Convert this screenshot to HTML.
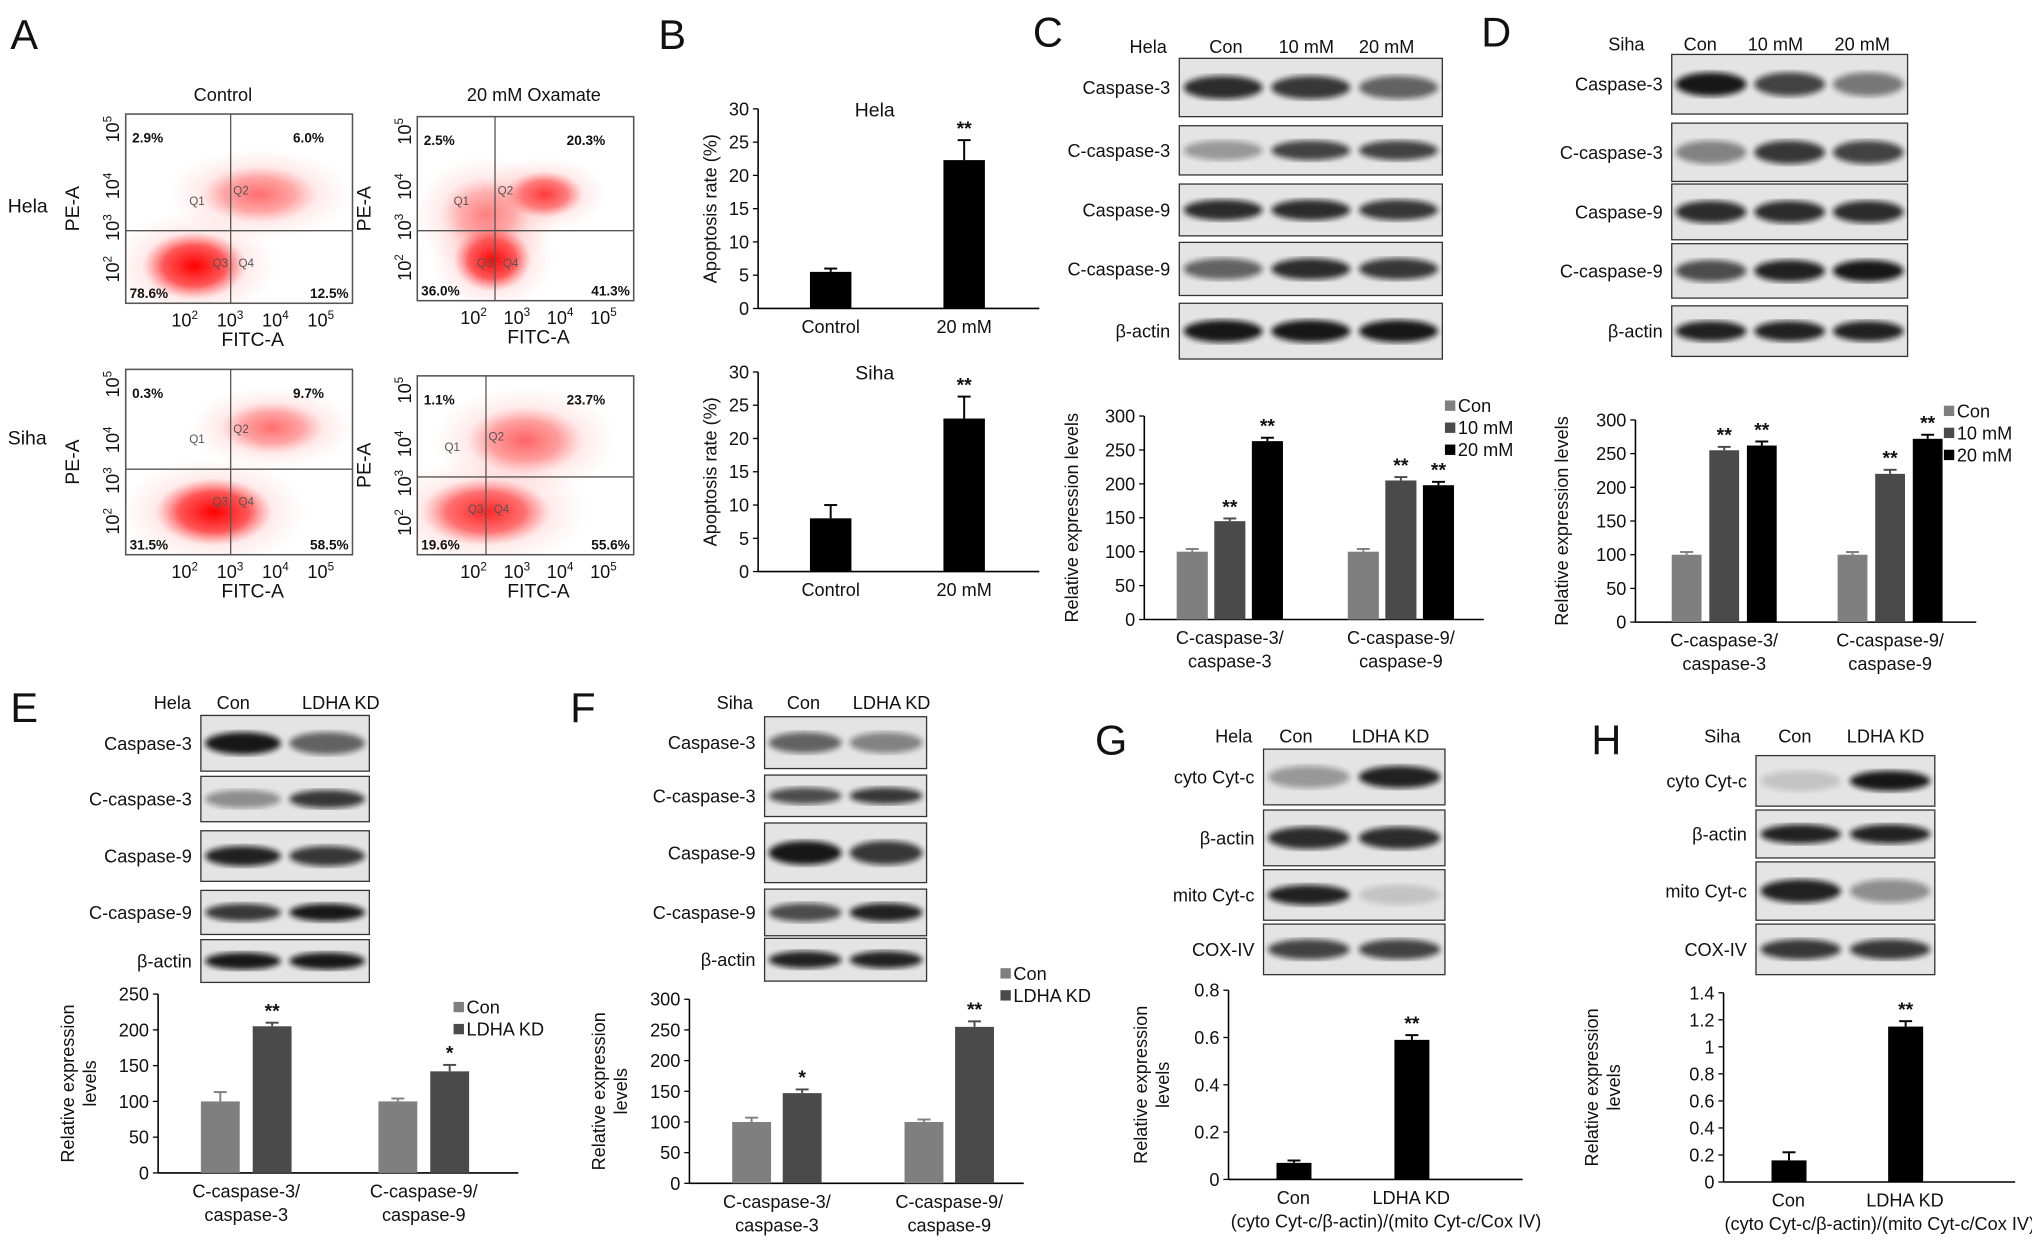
<!DOCTYPE html>
<html><head><meta charset="utf-8"><style>
html,body{margin:0;padding:0;background:#fff;}
svg{display:block;font-family:"Liberation Sans",Arial,sans-serif;}
</style></head><body>
<svg id="fig" width="2032" height="1252" viewBox="0 0 1568 966" preserveAspectRatio="none" xmlns="http://www.w3.org/2000/svg">
<defs>
<filter id="blur2"><feGaussianBlur stdDeviation="2.2"/></filter>
<radialGradient id="redc"><stop offset="0" stop-color="#ff0000" stop-opacity="1"/><stop offset="0.6" stop-color="#ff2020" stop-opacity="0.7"/><stop offset="1" stop-color="#ff6060" stop-opacity="0"/></radialGradient>
<radialGradient id="redl"><stop offset="0" stop-color="#ff3030" stop-opacity="0.35"/><stop offset="1" stop-color="#ff8080" stop-opacity="0"/></radialGradient>
</defs>
<g id="root"></g>
</svg>
<script>
// ---------- chart data ----------
const bCategories = ["Control", "20 mM"];
const bHelaValues = [5.5, 22.3];
const bHelaErrors = [0.5, 3];
const bSihaValues = [8, 23];
const bSihaErrors = [2, 3.3];
const bTicks = [0, 5, 10, 15, 20, 25, 30];

const cdGroups = [["C-caspase-3/", "caspase-3"], ["C-caspase-9/", "caspase-9"]];
const cdSeries = ["Con", "10 mM", "20 mM"];
const cValues = [[100, 145, 263], [100, 205, 198]];
const cErrors = [[4, 4, 5], [4, 5, 5]];
const cStars = [["", "**", "**"], ["", "**", "**"]];
const dValues = [[100, 255, 262], [100, 220, 272]];
const dErrors = [[4, 5, 6], [4, 6, 6]];
const dStars = [["", "**", "**"], ["", "**", "**"]];
const cdTicks = [0, 50, 100, 150, 200, 250, 300];

const efSeries = ["Con", "LDHA KD"];
const eValues = [[100, 205], [100, 142]];
const eErrors = [[13, 5], [4, 9]];
const eStars = [["", "**"], ["", "*"]];
const eTicks = [0, 50, 100, 150, 200, 250];
const fValues = [[100, 147], [100, 255]];
const fErrors = [[7, 6], [4, 9]];
const fStars = [["", "*"], ["", "**"]];
const fTicks = [0, 50, 100, 150, 200, 250, 300];

const ghCategories = ["Con", "LDHA KD"];
const gValues = [0.07, 0.59];
const gErrors = [0.01, 0.02];
const gTicks = [0, 0.2, 0.4, 0.6, 0.8];
const hValues = [0.16, 1.15];
const hErrors = [0.06, 0.04];
const hTicks = [0, 0.2, 0.4, 0.6, 0.8, 1, 1.2, 1.4];

// ---------- helpers ----------
const NS = "http://www.w3.org/2000/svg";
const root = document.getElementById("root");
function el(tag, attrs, parent) {
  const e = document.createElementNS(NS, tag);
  for (const k in attrs) e.setAttribute(k, attrs[k]);
  (parent || root).appendChild(e);
  return e;
}
function txt(s, x, y, size, anchor, parent, extra) {
  const t = el("text", Object.assign({x: x, y: y, "font-size": size, "text-anchor": anchor || "start", fill: "#111"}, extra || {}), parent);
  t.textContent = s;
  return t;
}
function grp(name) {
  const g = el("g", {});
  
  
  return g;
}
function scaleY(y0, y1, vmax) { return v => y0 - (y0 - y1) * v / vmax; }

function axes(g, x0, x1, y0, y1, ticks, vmax, fmt, ylabel, ylx) {
  const sy = scaleY(y0, y1, vmax);
  el("line", {x1: x0, y1: y0, x2: x0, y2: y1, stroke: "#000", "stroke-width": 1.2}, g);
  el("line", {x1: x0, y1: y0, x2: x1, y2: y0, stroke: "#000", "stroke-width": 1.2}, g);
  ticks.forEach(t => {
    const y = sy(t);
    el("line", {x1: x0 - 4, y1: y, x2: x0, y2: y, stroke: "#000", "stroke-width": 1}, g);
    const tl = txt(fmt ? fmt(t) : String(t), x0 - 7, y + 5, 14, "end", g);
    
    
  });
  if (ylabel) {
    const lines = Array.isArray(ylabel) ? ylabel : [ylabel];
    const cy = (y0 + y1) / 2;
    lines.forEach((L, i) => {
      const t = txt(L, 0, 0, 14, "middle", g, {transform: "translate(" + (ylx + i * 17) + "," + cy + ") rotate(-90)"});
      
      
    });
  }
  return sy;
}
function bar(g, x, w, v, err, sy, color, name, star) {
  const y = sy(v), y0 = sy(0);
  const r = el("rect", {x: x, y: y, width: w, height: y0 - y, fill: color}, g);
  
  
  const ye = sy(v + err), cx = x + w / 2;
  el("line", {x1: cx, y1: y, x2: cx, y2: ye, stroke: color, "stroke-width": 1.5}, g);
  el("line", {x1: cx - 5, y1: ye, x2: cx + 5, y2: ye, stroke: color, "stroke-width": 1.5}, g);
  if (star) {
    const s = txt(star, cx, ye - 4, 15, "middle", g, {"font-weight": "bold"});
    
    
  }
}

// ---------- panel letters ----------
[["A", 8, 38], ["B", 508, 38], ["C", 797, 36], ["D", 1143, 36], ["E", 8, 557], ["F", 440, 557], ["G", 845, 582], ["H", 1228, 582]].forEach(p => {
  const t = txt(p[0], p[1], p[2], 32, "start", root);
  
  
});

// ---------- Panel A: flow cytometry ----------
(function () {
  const g = grp("panel-a-flow-cytometry");
  txt("Control", 172, 78, 14, "middle", g);
  txt("20 mM Oxamate", 412, 78, 14, "middle", g);
  txt("Hela", 6, 164, 15, "start", g);
  txt("Siha", 6, 343, 15, "start", g);
  const plots = [
    {x: 97, y: 88, w: 175, h: 146, qx: 178, qy: 178, q: ["2.9%", "6.0%", "78.6%", "12.5%"], cl: [[150, 205, 40, 26, 1], [200, 150, 45, 22, 0.4]]},
    {x: 322, y: 90, w: 167, h: 142, qx: 382, qy: 178, q: ["2.5%", "20.3%", "36.0%", "41.3%"], cl: [[380, 200, 30, 25, 1], [420, 150, 30, 18, 0.7], [375, 165, 35, 28, 0.3]]},
    {x: 97, y: 285, w: 175, h: 143, qx: 178, qy: 362, q: ["0.3%", "9.7%", "31.5%", "58.5%"], cl: [[165, 395, 45, 26, 1], [210, 330, 40, 20, 0.4]]},
    {x: 322, y: 290, w: 167, h: 138, qx: 375, qy: 368, q: ["1.1%", "23.7%", "19.6%", "55.6%"], cl: [[375, 395, 50, 26, 0.8], [405, 340, 45, 26, 0.45]]}
  ];
  plots.forEach((p, i) => {
    const pg = el("g", {}, g);
    
    
    const cid = "clip" + i;
    const cp = el("clipPath", {id: cid}, pg);
    el("rect", {x: p.x, y: p.y, width: p.w, height: p.h}, cp);
    const cg = el("g", {"clip-path": "url(#" + cid + ")"}, pg);
    p.cl.forEach(c => {
      el("ellipse", {cx: c[0], cy: c[1], rx: c[2] * 1.6, ry: c[3] * 1.6, fill: "url(#redl)"}, cg);
      el("ellipse", {cx: c[0], cy: c[1], rx: c[2], ry: c[3], fill: "url(#redc)", opacity: c[4]}, cg);
    });
    el("rect", {x: p.x, y: p.y, width: p.w, height: p.h, fill: "none", stroke: "#555", "stroke-width": 1.2}, pg);
    el("line", {x1: p.qx, y1: p.y, x2: p.qx, y2: p.y + p.h, stroke: "#555", "stroke-width": 1}, pg);
    el("line", {x1: p.x, y1: p.qy, x2: p.x + p.w, y2: p.qy, stroke: "#555", "stroke-width": 1}, pg);
    const fs = 10.5, b = {"font-weight": "bold"};
    txt(p.q[0], p.x + 5, p.y + 22, fs, "start", pg, b);
    txt(p.q[1], p.x + p.w - 22, p.y + 22, fs, "end", pg, b);
    txt(p.q[2], p.x + 3, p.y + p.h - 4, fs, "start", pg, b);
    txt(p.q[3], p.x + p.w - 3, p.y + p.h - 4, fs, "end", pg, b);
    txt("Q1", p.qx - 32, p.qy - 20, 9, "start", pg, {fill: "#555"});
    txt("Q2", p.qx + 2, p.qy - 28, 9, "start", pg, {fill: "#555"});
    txt("Q3", p.qx - 14, p.qy + 28, 9, "start", pg, {fill: "#555"});
    txt("Q4", p.qx + 6, p.qy + 28, 9, "start", pg, {fill: "#555"});
    const xs = [0.26, 0.46, 0.66, 0.86];
    ["2", "3", "4", "5"].forEach((e, k) => {
      const tx = p.x + p.w * xs[k];
      const t = txt("10", tx, p.y + p.h + 18, 14, "middle", pg);
      const s = el("tspan", {dy: -6, "font-size": 9}, t); s.textContent = e;
    });
    txt("FITC-A", p.x + p.w * 0.56, p.y + p.h + 33, 15, "middle", pg);
    const ys = [0.82, 0.6, 0.38, 0.08];
    ["2", "3", "4", "5"].forEach((e, k) => {
      const ty = p.y + p.h * ys[k];
      const t = txt("10", 0, 0, 14, "middle", pg, {transform: "translate(" + (p.x - 5) + "," + ty + ") rotate(-90)"});
      const s = el("tspan", {dy: -6, "font-size": 9}, t); s.textContent = e;
    });
    txt("PE-A", 0, 0, 15, "middle", pg, {transform: "translate(" + (p.x - 36) + "," + (p.y + p.h * 0.5) + ") rotate(-90)"});
  });
})();

// ---------- Panel B ----------
function panelB(name, y0, y1, title, vals, errs) {
  const g = grp(name);
  const sy = axes(g, 585, 802, y0, y1, bTicks, 30, null, "Apoptosis rate (%)", 553);
  const xs = [625, 728];
  bCategories.forEach((c, i) => {
    bar(g, xs[i], 32, vals[i], errs[i], sy, "#000", "bar-" + (i ? "20mm" : "control"), i ? "**" : "");
    txt(c, xs[i] + 16, y0 + 19, 14, "middle", g);
  });
  txt(title, 675, y1 + 6, 15, "middle", g);
}
panelB("panel-b-hela-chart", 238, 84, "Hela", bHelaValues, bHelaErrors);
panelB("panel-b-siha-chart", 441, 287, "Siha", bSihaValues, bSihaErrors);

// ---------- Western blots ----------
function blot(name, bx, bw, rows, labels, lanes, intens, header, hy) {
  const g = grp(name);
  header.forEach(h => txt(h[0], h[1], hy, 14, "middle", g));
  rows.forEach((r, i) => {
    const rg = el("g", {}, g);
    
    
    el("rect", {x: bx, y: r[0], width: bw, height: r[1] - r[0], fill: "#e4e4e4", stroke: "#333", "stroke-width": 1}, rg);
    const cy = (r[0] + r[1]) / 2, lw = bw / lanes;
    intens[i].forEach((v, k) => {
      el("ellipse", {cx: bx + lw * (k + 0.5), cy: cy, rx: lw * 0.45, ry: (r[1] - r[0]) * 0.2, fill: "#111", opacity: v, filter: "url(#blur2)"}, rg);
    });
    txt(labels[i], bx - 7, cy + 5, 14, "end", rg);
  });
}
const cLabels = ["Caspase-3", "C-caspase-3", "Caspase-9", "C-caspase-9", "β-actin"];
blot("panel-c-western-blot", 910, 203, [[45, 90], [97, 135], [142, 182], [187, 228], [234, 277]], cLabels, 3,
  [[0.85, 0.8, 0.6], [0.35, 0.75, 0.75], [0.85, 0.85, 0.8], [0.6, 0.85, 0.8], [0.95, 0.95, 0.95]],
  [["Hela", 886], ["Con", 946], ["10 mM", 1008], ["20 mM", 1070]], 41);
blot("panel-d-western-blot", 1290, 182, [[42, 88], [95, 140], [142, 185], [188, 230], [236, 275]], cLabels, 3,
  [[0.95, 0.75, 0.5], [0.45, 0.8, 0.75], [0.85, 0.85, 0.85], [0.7, 0.9, 0.95], [0.9, 0.9, 0.9]],
  [["Siha", 1255], ["Con", 1312], ["10 mM", 1370], ["20 mM", 1437]], 39);
blot("panel-e-western-blot", 155, 130, [[552, 595], [599, 634], [641, 680], [687, 721], [725, 758]], cLabels, 2,
  [[0.95, 0.6], [0.4, 0.8], [0.9, 0.8], [0.8, 0.95], [0.95, 0.95]],
  [["Hela", 133], ["Con", 180], ["LDHA KD", 263]], 547);
blot("panel-f-western-blot", 590, 125, [[553, 593], [598, 630], [635, 681], [686, 722], [724, 757]], cLabels, 2,
  [[0.6, 0.45], [0.7, 0.8], [0.95, 0.8], [0.7, 0.9], [0.9, 0.9]],
  [["Siha", 567], ["Con", 620], ["LDHA KD", 688]], 547);
const gLabels = ["cyto Cyt-c", "β-actin", "mito Cyt-c", "COX-IV"];
blot("panel-g-western-blot", 975, 140, [[578, 621], [625, 668], [671, 710], [713, 752]], gLabels, 2,
  [[0.35, 0.9], [0.85, 0.85], [0.9, 0.15], [0.75, 0.75]],
  [["Hela", 952], ["Con", 1000], ["LDHA KD", 1073]], 573);
blot("panel-h-western-blot", 1355, 138, [[583, 622], [625, 662], [665, 710], [713, 752]], gLabels, 2,
  [[0.15, 0.95], [0.9, 0.9], [0.9, 0.4], [0.8, 0.8]],
  [["Siha", 1329], ["Con", 1385], ["LDHA KD", 1455]], 573);

// ---------- grouped bar charts ----------
const grpColors3 = ["#7f7f7f", "#4a4a4a", "#000"];
const grpColors2 = ["#7f7f7f", "#4a4a4a"];
function groupChart(name, x0, x1, y0, y1, ticks, vmax, values, errors, stars, series, colors, groupStarts, bw, gap, legendX, legendY, ylabel, ylx) {
  const g = grp(name);
  const sy = axes(g, x0, x1, y0, y1, ticks, vmax, null, ylabel, ylx);
  values.forEach((gv, gi) => {
    gv.forEach((v, si) => {
      bar(g, groupStarts[gi] + si * (bw + gap), bw, v, errors[gi][si], sy, colors[si], "bar-group" + (gi + 1) + "-" + series[si].toLowerCase().replace(/\s+/g, ''), stars[gi][si]);
    });
    const cx = groupStarts[gi] + (gv.length * (bw + gap) - gap) / 2;
    txt(cdGroups[gi][0], cx, y0 + 19, 14, "middle", g);
    txt(cdGroups[gi][1], cx, y0 + 37, 14, "middle", g);
  });
  series.forEach((s, si) => {
    const lg = el("g", {}, g);
    
    
    el("rect", {x: legendX, y: legendY + si * 17 - 9, width: 8, height: 8, fill: colors[si]}, lg);
    txt(s, legendX + 10, legendY + si * 17, 14, "start", lg);
  });
}
groupChart("panel-c-bar-chart", 883, 1145, 478, 321, cdTicks, 300, cValues, cErrors, cStars, cdSeries, grpColors3, [908, 1040], 24, 5, 1115, 318, "Relative expression levels", 832);
groupChart("panel-d-bar-chart", 1262, 1525, 480, 324, cdTicks, 300, dValues, dErrors, dStars, cdSeries, grpColors3, [1290, 1418], 23, 6, 1500, 322, "Relative expression levels", 1210);
groupChart("panel-e-bar-chart", 122, 400, 905, 767, eTicks, 250, eValues, eErrors, eStars, efSeries, grpColors2, [155, 292], 30, 10, 350, 782, ["Relative expression", "levels"], 57);
groupChart("panel-f-bar-chart", 532, 790, 913, 771, fTicks, 300, fValues, fErrors, fStars, efSeries, grpColors2, [565, 698], 30, 9, 772, 756, ["Relative expression", "levels"], 467);

// ---------- G / H charts ----------
function ghChart(name, x0, x1, y0, y1, ticks, vmax, vals, errs, xs, ylx) {
  const g = grp(name);
  const sy = axes(g, x0, x1, y0, y1, ticks, vmax, t => String(Math.round(t * 10) / 10), ["Relative expression", "levels"], ylx);
  ghCategories.forEach((c, i) => {
    bar(g, xs[i], 27, vals[i], errs[i], sy, "#000", "bar-" + c.toLowerCase().replace(/\s+/g, '-'), i ? "**" : "");
    txt(c, xs[i] + 13, y0 + 19, 14, "middle", g);
  });
  txt("(cyto Cyt-c/β-actin)/(mito Cyt-c/Cox IV)", (x0 + x1) / 2 + 8, y0 + 37, 14, "middle", g);
}
ghChart("panel-g-bar-chart", 948, 1175, 910, 764, gTicks, 0.8, gValues, gErrors, [985, 1076], 885);
ghChart("panel-h-bar-chart", 1330, 1555, 912, 766, hTicks, 1.4, hValues, hErrors, [1367, 1457], 1233);
</script>
</body></html>
